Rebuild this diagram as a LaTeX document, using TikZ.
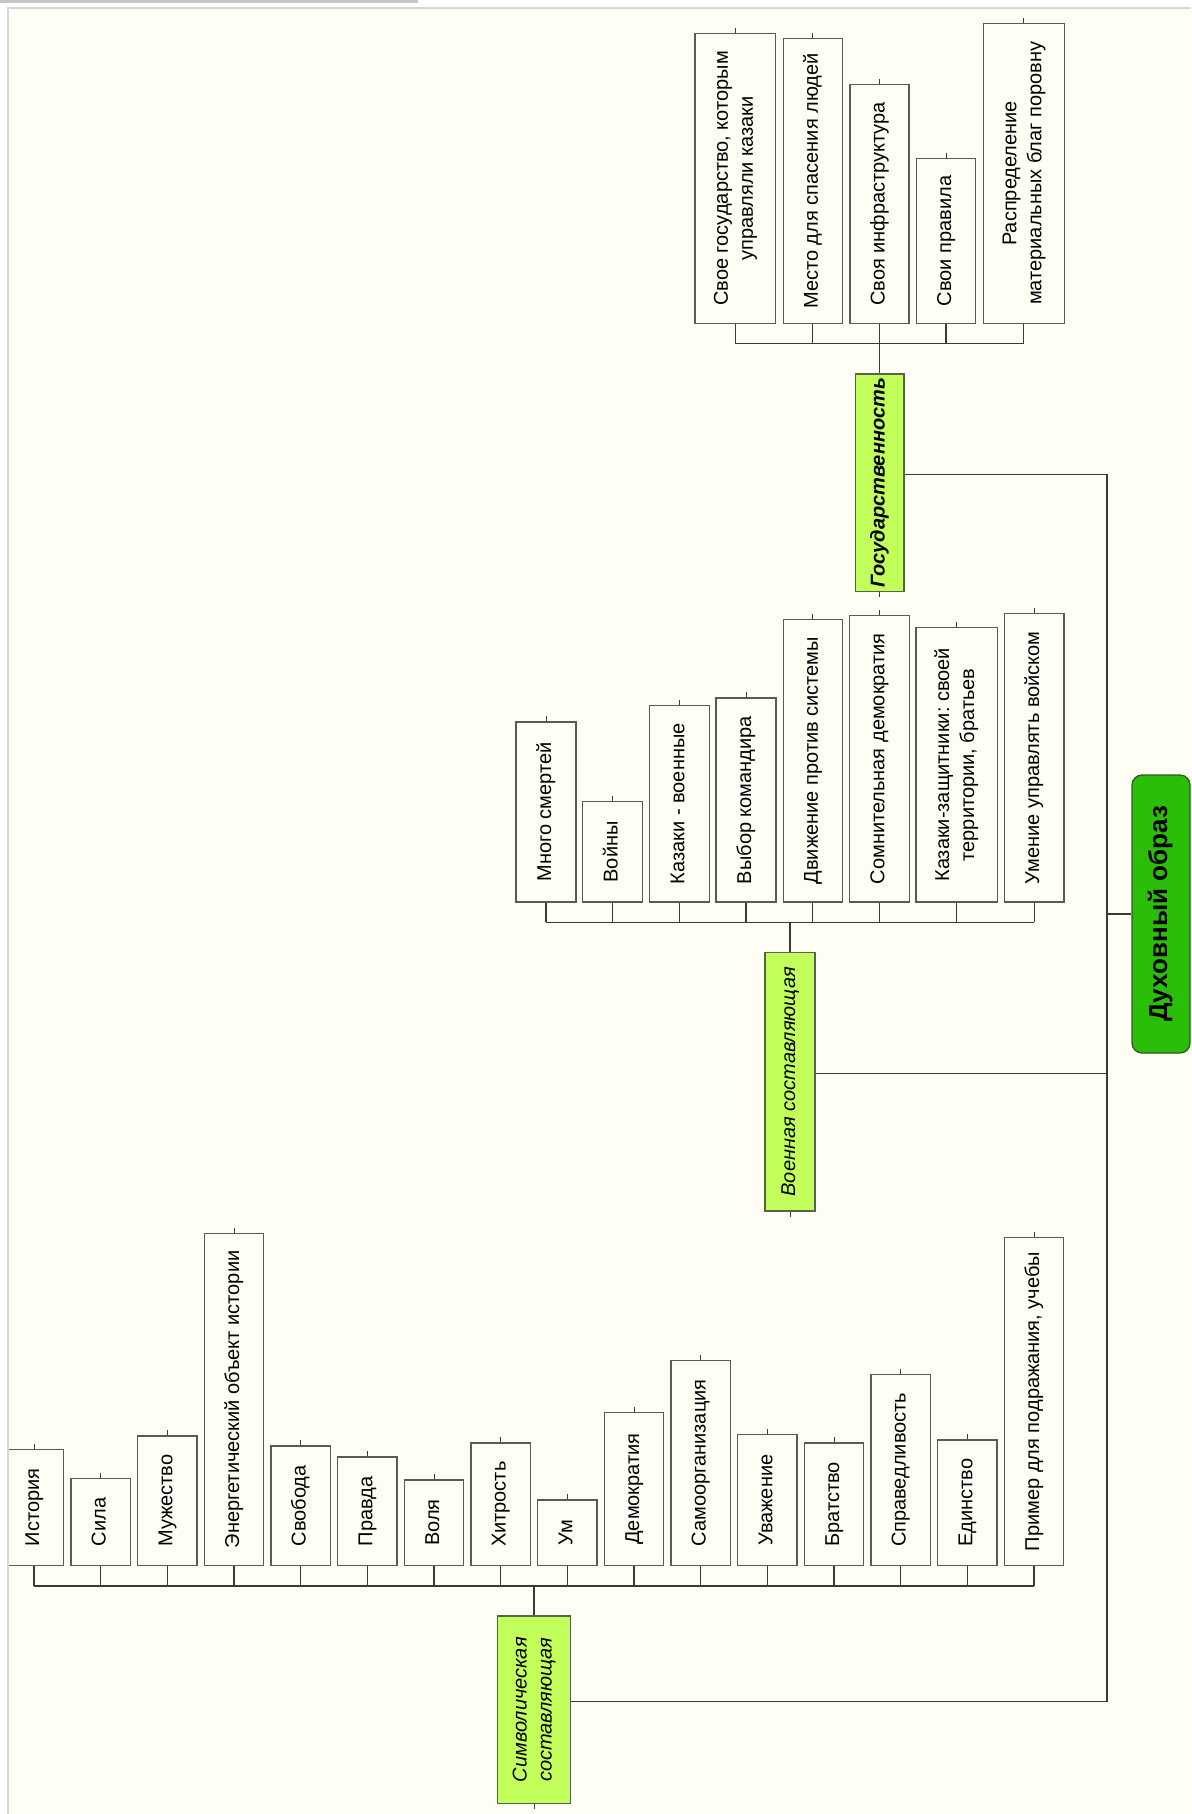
\documentclass[tikz,border=0pt]{standalone}
\usepackage{fontspec}
\setmainfont{Liberation Sans}
\usepackage{graphicx}
\frenchspacing
\definecolor{bg}{HTML}{FEFEF5}
\definecolor{boxline}{HTML}{5A5A5A}
\definecolor{connline}{HTML}{3A3A3A}
\definecolor{lime}{HTML}{C2FF5A}
\definecolor{limeline}{HTML}{55654A}
\definecolor{dgreen}{HTML}{2BBE08}
\definecolor{dgreenline}{HTML}{2F5A22}
\definecolor{framec}{HTML}{D6D6D6}
\newcommand\rt[1]{\rotatebox{90}{\begin{tabular}{@{}c@{}}#1\end{tabular}}}
\begin{document}
\begin{tikzpicture}[x=1pt,y=-1pt,
  font=\fontsize{20}{25}\selectfont,
  leaf/.style={draw=boxline, line width=1.3pt, fill=bg, inner sep=0pt, anchor=south},
  grp/.style={draw=limeline, line width=1.3pt, fill=lime, inner sep=0pt, font=\fontsize{20}{25}\selectfont\itshape},
  conn/.style={draw=connline, line width=1.2pt},
  tick/.style={draw=connline, line width=1pt}]
\useasboundingbox (0,0) rectangle (1191,1814);
\fill[white] (0,0) rectangle (1191,1814);
\fill[bg] (8,8) rectangle (1191,1814);
\fill[black!22] (0,0) rectangle (418,3);

\begin{scope}
\clip (8,8) rectangle (1191,1814);

% ---------- root ----------
\node[draw=dgreenline, line width=1.3pt, fill=dgreen, rounded corners=10pt, inner sep=0pt,
      minimum width=58pt, minimum height=278pt, font=\fontsize{26}{30}\selectfont\bfseries]
      (duh) at (1161,914) {\rt{Духовный образ}};

% ---------- group nodes ----------
\node[grp, minimum width=48.7pt, minimum height=217.4pt, font=\fontsize{20}{25}\selectfont\bfseries\itshape]
      (gos) at (879.7,482.7) {\rt{Государственность}};
\node[grp, minimum width=50pt, minimum height=258.7pt] (voen) at (790,1081.7) {\rt{Военная составляющая}};
\node[grp, minimum width=72.5pt, minimum height=187.3pt] (simv) at (534,1709.7) {\rt{Символическая\\составляющая}};

% ---------- state leaves ----------
\node[leaf, minimum width=80.7pt, minimum height=290pt] (g1) at (735.3,324) {\rt{Свое государство, которым\\управляли казаки}};
\node[leaf, minimum width=59pt, minimum height=284.7pt] (g2) at (812.8,324) {\rt{Место для спасения людей}};
\node[leaf, minimum width=59pt, minimum height=239pt] (g3) at (879.5,324) {\rt{Своя инфраструктура}};
\node[leaf, minimum width=58.6pt, minimum height=164.7pt] (g4) at (946,324) {\rt{Свои правила}};
\node[leaf, minimum width=81pt, minimum height=300pt] (g5) at (1023.8,324) {\rt{Распределение\\материальных благ поровну}};

% ---------- military leaves ----------
\node[leaf, minimum width=60pt, minimum height=180pt] (m1) at (546,902.7) {\rt{Много смертей}};
\node[leaf, minimum width=60pt, minimum height=100.4pt] (m2) at (612.7,902.7) {\rt{Войны}};
\node[leaf, minimum width=60pt, minimum height=196.7pt] (m3) at (679.3,902.7) {\rt{Казаки - военные}};
\node[leaf, minimum width=60pt, minimum height=204pt] (m4) at (746,902.7) {\rt{Выбор командира}};
\node[leaf, minimum width=59pt, minimum height=282.7pt] (m5) at (812.8,902.7) {\rt{Движение против системы}};
\node[leaf, minimum width=60pt, minimum height=286.7pt] (m6) at (879.3,902.7) {\rt{Сомнительная демократия}};
\node[leaf, minimum width=81.3pt, minimum height=274.4pt] (m7) at (956.7,902.7) {\rt{Казаки-защитники: своей\\территории, братьев}};
\node[leaf, minimum width=59.7pt, minimum height=288.4pt] (m8) at (1034.2,902.7) {\rt{Умение управлять войском}};

% ---------- symbolic leaves ----------
\foreach \i/\t/\txt in {0/1450/История, 1/1479/Сила, 2/1436.7/Мужество,
    3/1234/Энергетический объект истории, 4/1446.7/Свобода, 5/1457.7/Правда,
    6/1480.7/Воля, 7/1443.7/Хитрость, 8/1500.7/Ум, 9/1413.3/Демократия,
    10/1361/Самоорганизация, 11/1435.3/Уважение, 12/1443.7/Братство,
    13/1375/Справедливость, 14/1440.7/Единство}{
  \pgfmathsetmacro\cxx{34+66.667*\i}
  \pgfmathsetmacro\hhh{1566-\t}
  \node[leaf, minimum width=59.3pt, minimum height=\hhh pt] (s\i) at (\cxx,1566) {\rt{\txt}};
}
\node[leaf, minimum width=59.3pt, minimum height=327.7pt] (s15) at (1034,1566) {\rt{Пример для подражания, учебы}};

% ---------- buses ----------
\coordinate (gbus) at (879.5,343.3);
\coordinate (mbus) at (790,922.3);
\coordinate (sbus) at (534,1586);

\foreach \n in {g1,g2,g3,g4,g5}{
  \draw[conn] (\n.south) -- (\n.south |- gbus);
  \draw[tick] (\n.north) -- ++(0,-5);
}
\draw[conn] (g1.south |- gbus) -- (g5.south |- gbus);
\draw[conn] (gos.north) -- (gos.north |- gbus);
\draw[tick] (gos.south) -- ++(0,5);

\foreach \n in {m1,m2,m3,m4,m5,m6,m7,m8}{
  \draw[conn] (\n.south) -- (\n.south |- mbus);
  \draw[tick] (\n.north) -- ++(0,-5);
}
\draw[conn] (m1.south |- mbus) -- (m8.south |- mbus);
\draw[conn] (voen.north) -- (voen.north |- mbus);
\draw[tick] (voen.south) -- ++(0,5);

\foreach \i in {0,...,15}{
  \draw[conn] (s\i.south) -- (s\i.south |- sbus);
  \draw[tick] (s\i.north) -- ++(0,-5);
}
\draw[conn] (s0.south |- sbus) -- (s15.south |- sbus);
\draw[conn] (simv.north) -- (simv.north |- sbus);
\draw[tick] (simv.south) -- ++(0,5);

% ---------- trunk ----------
\coordinate (tr) at (1107,914);
\draw[conn] ([yshift=8pt]gos.east) -| (tr);
\draw[conn] ([yshift=8pt]simv.east) -| (tr);
\draw[conn] ([yshift=8pt]voen.east) -- ([yshift=8pt]voen.east -| tr);
\draw[conn] (tr) -- (duh.west);
\end{scope}

\draw[framec, line width=2pt] (8,1814) -- (8,8) -- (1191,8);
\end{tikzpicture}
\end{document}
